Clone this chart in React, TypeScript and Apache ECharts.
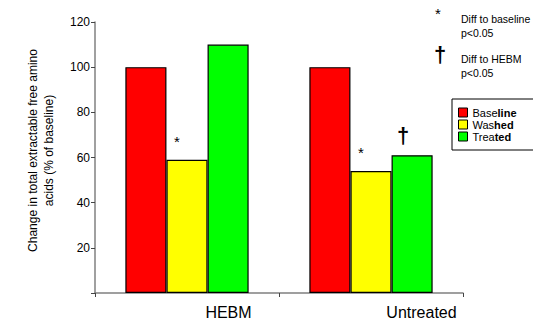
import React, { useEffect, useRef } from "react";
import * as echarts from "echarts";

const categories = ["HEBM", "Untreated"];
const seriesNames = ["Baseline", "Washed", "Treated"];
const baseline = [100, 100];
const washed = [59, 54];
const treated = [110, 61];
const washedMarks = ["*", "*"];
const treatedMarks = ["", "†"];
const yTicks = { min: 0, max: 120, interval: 20 };
const legendRich: Record<string, [string, string]> = {
  Baseline: ["Base", "line"],
  Washed: ["Was", "hed"],
  Treated: ["Trea", "ted"],
};

const FONT = "Liberation Sans, Arial, sans-serif";

export default function App() {
  const ref = useRef<HTMLDivElement>(null);
  useEffect(() => {
    if (!ref.current) return;
    const chart = echarts.init(ref.current, undefined, { renderer: "svg" });
    const barBase = {
      type: "bar" as const,
      barGap: "0%",
      barCategoryGap: "33%",
      itemStyle: { borderColor: "#000", borderWidth: 1.2 },
    };
    chart.setOption({
      animation: false,
      backgroundColor: "#fff",
      textStyle: { fontFamily: FONT },
      grid: { left: 95, right: 70, top: 22, bottom: 28, containLabel: false },
      legend: {
        orient: "vertical",
        left: 452,
        top: 99,
        width: 77,
        padding: [8, 20, 8, 6],
        borderColor: "#000",
        borderWidth: 1,
        itemWidth: 9,
        itemHeight: 9,
        itemGap: 1,
        icon: "rect",
        data: seriesNames,
        itemStyle: { borderColor: "#000", borderWidth: 1 },
        formatter: (name: string) => {
          const p = legendRich[name];
          return `{a|${p[0]}}{b|${p[1]}}`;
        },
        textStyle: {
          fontSize: 11,
          color: "#000",
          rich: {
            a: { fontSize: 11, fontFamily: FONT, color: "#000" },
            b: { fontSize: 11, fontFamily: FONT, color: "#000", fontWeight: "bold" },
          },
        },
      },
      xAxis: {
        type: "category",
        data: categories,
        axisLine: { lineStyle: { color: "#808080", width: 1.5 } },
        axisTick: { show: true, length: 4, lineStyle: { color: "#444", width: 1 } },
        axisLabel: {
          fontSize: 16,
          color: "#000",
          margin: 11,
          fontFamily: FONT,
          formatter: (v: string, i: number) => `{c${i}|${v}}`,
          rich: {
            c0: { fontSize: 16, fontFamily: FONT, color: "#000", padding: [0, 0, 0, 83] },
            c1: { fontSize: 16, fontFamily: FONT, color: "#000", padding: [0, 0, 0, 101] },
          },
        },
      },
      yAxis: {
        type: "value",
        min: yTicks.min,
        max: yTicks.max,
        interval: yTicks.interval,
        name: "Change in total extractable free amino\nacids (% of baseline)",
        nameLocation: "middle",
        nameGap: 38,
        nameTextStyle: {
          fontSize: 12,
          color: "#000",
          lineHeight: 16,
          fontFamily: FONT,
          padding: [0, 0, 0, 14],
        },
        splitLine: { show: false },
        axisLine: { show: true, lineStyle: { color: "#808080", width: 1.5 } },
        axisTick: { show: true, length: 4, lineStyle: { color: "#444", width: 1 } },
        axisLabel: {
          fontSize: 12,
          color: "#000",
          margin: 5,
          fontFamily: FONT,
          formatter: (v: number) => (v === 0 ? "" : String(v)),
        },
      },
      series: [
        {
          ...barBase,
          name: seriesNames[0],
          data: baseline,
          itemStyle: { ...barBase.itemStyle, color: "#ff0000" },
        },
        {
          ...barBase,
          name: seriesNames[1],
          data: washed.map((v, i) => ({
            value: v,
            label: {
              show: washedMarks[i] !== "",
              formatter: washedMarks[i],
              position: "top",
              offset: [-10, -6],
              fontSize: 15,
              color: "#000",
              fontFamily: FONT,
            },
          })),
          itemStyle: { ...barBase.itemStyle, color: "#ffff00" },
        },
        {
          ...barBase,
          name: seriesNames[2],
          data: treated.map((v, i) => ({
            value: v,
            label: {
              show: treatedMarks[i] !== "",
              formatter: treatedMarks[i],
              position: "top",
              offset: [-9, -4],
              fontSize: 22,
              fontWeight: "bold",
              color: "#000",
              fontFamily: FONT,
            },
          })),
          itemStyle: { ...barBase.itemStyle, color: "#00ff00" },
        },
      ],
      graphic: [
        { type: "text", left: 435, top: 6, style: { text: "*", fontSize: 15, fill: "#000", fontFamily: FONT } },
        {
          type: "text",
          left: 461,
          top: 12,
          style: { text: "Diff to baseline\np<0.05", fontSize: 10.5, lineHeight: 14, fill: "#000", fontFamily: FONT },
        },
        {
          type: "text",
          left: 434,
          top: 43,
          style: { text: "†", fontSize: 22, fontWeight: "bold", fill: "#000", fontFamily: FONT },
        },
        {
          type: "text",
          left: 461,
          top: 52,
          style: { text: "Diff to HEBM\np<0.05", fontSize: 10.5, lineHeight: 14, fill: "#000", fontFamily: FONT },
        },
      ],
    });
    return () => chart.dispose();
  }, []);
  return (
    <div
      ref={ref}
      style={{ position: "absolute", left: 0, top: 0, width: 533, height: 321, background: "#fff" }}
    />
  );
}
